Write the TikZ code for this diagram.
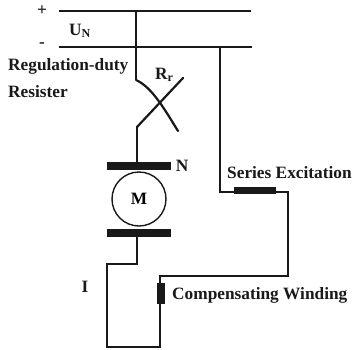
\documentclass[tikz,border=0pt]{standalone}
\usepackage{fontspec}
\setmainfont{Liberation Serif}
\usepackage{tikz}
\tikzstyle{wire} = [line width=1.4pt, line join=miter, color=black!90]
\tikzstyle{bus} = [line width=1.6pt, color=black!90]
\tikzstyle{res} = [line width=2.2pt, line cap=round, color=black!90]
\tikzstyle{coil} = [rectangle, fill=black!90, inner sep=0pt]
\tikzstyle{lbl} = [inner sep=0pt, font=\bfseries\fontsize{17.3}{17.3}\selectfont, color=black!90]

\begin{document}
\begin{tikzpicture}[x=1pt, y=-1pt, node distance=36pt]
		\useasboundingbox (0,0) rectangle (353,349);
		% supply
		\coordinate (bus_p_left) at (59,11);
		\coordinate (bus_p_right) at (251,11);
		\coordinate (bus_n_left) at (59,47);
		\coordinate (bus_n_right) at (252,47);
		\draw [bus] (bus_p_left) -- (bus_p_right);
		\draw [bus] (bus_n_left) -- (bus_n_right);
		\node (plus) [lbl] at (42,11) {+};
		\node (minus) [lbl] at (42,45) {-};
		\node (voltage) [lbl, anchor=west] at (69,31) {U$_{\mathbf{N}}$};
		% regulation resistor
		\coordinate (tap_p) at (136,11);
		\coordinate (res_top) at (136,80);
		\coordinate (res_tail) at (178,131);
		\coordinate (res_low) at (137,127);
		\coordinate (res_wiper) at (183,78);
		\draw [wire] (tap_p) -- (res_top);
		\draw [res] (res_top) .. controls (152,87) and (165,110) .. (res_tail);
		\draw [res] (res_low) -- (res_wiper);
		\node (res_name) [lbl, anchor=west] at (155,75) {R$_{\mathbf{r}}$};
		\node (res_text1) [lbl, anchor=base west] at (8,70) {Regulation-duty};
		\node (res_text2) [lbl, anchor=base west] at (8,97) {Resister};
		% motor
		\node (brush_top) [coil, minimum width=64pt, minimum height=8pt] at (139,166) {};
		\node (motor) [circle, draw=black!90, line width=1.4pt, minimum size=54pt, inner sep=0pt, font=\bfseries\fontsize{17.3}{17.3}\selectfont, below of=brush_top, yshift=3pt] {M};
		\node (brush_bottom) [coil, minimum width=64pt, minimum height=8pt, below of=motor, yshift=2pt] {};
		\node (north) [lbl, right of=brush_top, xshift=7pt] {N};
		\draw [wire] (res_low) -- (brush_top.north -| res_low);
		% series excitation
		\node (series) [coil, minimum width=42pt, minimum height=7pt] at (255,190) {};
		\node (series_text) [lbl, anchor=west] at (227,173) {Series Excitation};
		% compensating winding
		\node (comp) [coil, minimum width=8pt, minimum height=21pt] at (161,293.5) {};
		\node (comp_text) [lbl, anchor=west] at (172,295) {Compensating Winding};
		\node (current) [lbl] at (85,287) {I};
		% return path
		\coordinate (tap_n) at (220,47);
		\coordinate (series_left) at (220,192);
		\coordinate (series_right) at (288,192);
		\coordinate (comp_right) at (288,276);
		\coordinate (comp_top) at (160,276);
		\coordinate (comp_bottom) at (160,347);
		\coordinate (loop_left) at (107,347);
		\coordinate (loop_top) at (107,264);
		\coordinate (brush_out) at (137,264);
		\draw [wire] (tap_n) -- (series_left) -- (series_right) -- (comp_right) -- (comp_top) -- (comp_bottom) -- (loop_left) -- (loop_top) -- (brush_out) -- (brush_bottom.south -| brush_out);
\end{tikzpicture}
\end{document}
